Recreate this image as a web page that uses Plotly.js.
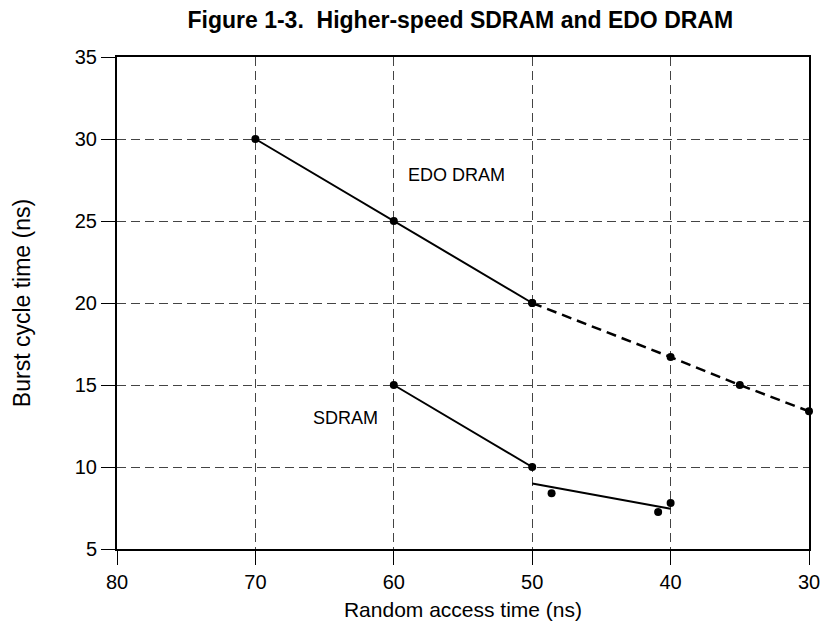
<!DOCTYPE html>
<html>
<head>
<meta charset="utf-8">
<script src="https://cdn.plot.ly/plotly-3.0.1.min.js"></script>
<style>html,body{margin:0;padding:0;background:#fff;}#chart{width:822px;height:627px;}</style>
</head>
<body>
<div id="chart"></div>
<script>
// EDO DRAM measured (solid) and projected (dashed)
const edoSolidX = [70, 60, 50];
const edoSolidY = [30, 25, 20];
const edoDashX = [50, 40, 35, 30];
const edoDashY = [20, 16.7, 15, 13.4];
// SDRAM
const sdramX = [60, 50];
const sdramY = [15, 10];
const sdramFitX = [50, 40];
const sdramFitY = [9.0, 7.45];
const sdramPtsX = [48.6, 40.9, 40];
const sdramPtsY = [8.4, 7.25, 7.8];
const xTicks = [80, 70, 60, 50, 40, 30];
const yTicks = [5, 10, 15, 20, 25, 30, 35];

const FONT = 'Liberation Sans, Arial, sans-serif';
const mk = {color: '#000', size: 8};
const traces = [
  {x: edoSolidX, y: edoSolidY, mode: 'lines+markers', line: {color: '#000', width: 2}, marker: mk, cliponaxis: false},
  {x: edoDashX, y: edoDashY, mode: 'lines+markers', line: {color: '#000', width: 2.5, dash: '10px,6px'}, marker: mk, cliponaxis: false},
  {x: sdramX, y: sdramY, mode: 'lines+markers', line: {color: '#000', width: 2}, marker: mk, cliponaxis: false},
  {x: sdramFitX, y: sdramFitY, mode: 'lines', line: {color: '#000', width: 2}, cliponaxis: false},
  {x: sdramPtsX, y: sdramPtsY, mode: 'markers', marker: mk, cliponaxis: false}
];
const axisCommon = {
  showline: true, mirror: true, linecolor: '#000', linewidth: 2,
  ticks: 'outside', ticklen: 14, tickcolor: '#000', tickwidth: 1,
  showgrid: true, gridcolor: '#444', griddash: '9px,5px', gridwidth: 1,
  zeroline: false, tickfont: {family: FONT, size: 20, color: '#000'}
};
const layout = {
  width: 822, height: 627,
  margin: {l: 117, r: 13, t: 57, b: 78},
  paper_bgcolor: '#fff', plot_bgcolor: '#fff',
  showlegend: false,
  title: {text: '<b>Figure 1-3.  Higher-speed SDRAM and EDO DRAM</b>', font: {family: FONT, size: 23, color: '#000'}, x: 0.56, xanchor: 'center', y: 0.968, yanchor: 'middle'},
  xaxis: Object.assign({}, axisCommon, {
    range: [80, 30], tickvals: xTicks, ticktext: xTicks.map(String),
    title: {text: 'Random access time (ns)', font: {family: FONT, size: 21, color: '#000'}, standoff: 10}
  }),
  yaxis: Object.assign({}, axisCommon, {
    range: [5, 35], tickvals: yTicks, ticktext: yTicks.map(String),
    title: {text: 'Burst cycle time (ns)', font: {family: FONT, size: 23, color: '#000'}, standoff: 38}
  }),
  annotations: [
    {x: 55.5, y: 27.8, xref: 'x', yref: 'y', text: 'EDO DRAM', showarrow: false, font: {family: FONT, size: 18, color: '#000'}},
    {x: 63.5, y: 13.0, xref: 'x', yref: 'y', text: 'SDRAM', showarrow: false, font: {family: FONT, size: 18, color: '#000'}}
  ]
};
Plotly.newPlot('chart', traces, layout, {displayModeBar: false, staticPlot: true});
</script>
</body>
</html>
